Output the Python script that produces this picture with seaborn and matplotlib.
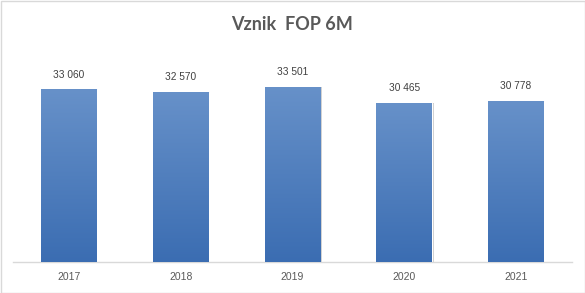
import numpy as np
import pandas as pd
import matplotlib
matplotlib.use("Agg")
import matplotlib.pyplot as plt
import seaborn as sns
from matplotlib.colors import LinearSegmentedColormap
from matplotlib.patches import Rectangle

years = ["2017", "2018", "2019", "2020", "2021"]
values = [33060, 32570, 33501, 30465, 30778]
labels = ["33 060", "32 570", "33 501", "30 465", "30 778"]
title = "Vznik  FOP 6M"

sns.set_theme(style="white")
plt.rcParams["font.family"] = ["Liberation Sans", "DejaVu Sans"]

df = pd.DataFrame({"year": years, "value": values})

fig = plt.figure(figsize=(5.85, 2.93), dpi=100)
ax = fig.add_axes([13/585, 1-262/293, 559/585, 209/293])
sns.barplot(data=df, x="year", y="value", color="#4a7bbf", width=0.5, ax=ax, saturation=1)
ax.set_ylim(0, 40000)
ax.set_xlim(-0.5, 4.5)

cmap = LinearSegmentedColormap.from_list("g", ["#3b6db2", "#6791c9"])
grad = np.linspace(0, 1, 256).reshape(-1, 1)
for p, lab in zip(ax.patches, labels):
    x0, y0 = p.get_x(), p.get_y()
    w, h = p.get_width(), p.get_height()
    sh = Rectangle((x0 + 0.012, y0), w, h, color="#c8c8c8", zorder=1, lw=0)
    ax.add_patch(sh)
    p.set_zorder(2)
    im = ax.imshow(grad, extent=[x0, x0 + w, y0, y0 + h], origin="lower",
                   cmap=cmap, aspect="auto", zorder=3)
    im.set_clip_path(p)
    ax.annotate(lab, (x0 + w / 2, y0 + h), xytext=(0, 7), textcoords="offset points",
                ha="center", va="bottom", fontsize=7.3, color="#404040")
ax.set_xlim(-0.5, 4.5)
ax.set_ylim(0, 40000)

for s in ["top", "right", "left"]:
    ax.spines[s].set_visible(False)
ax.spines["bottom"].set_color("#d9d9d9")
ax.spines["bottom"].set_linewidth(1)
ax.set_yticks([])
ax.set_xlabel("")
ax.set_ylabel("")
ax.tick_params(axis="x", length=0, pad=7, labelsize=7.5, labelcolor="#595959")

fig.text(0.5, 1 - 25/293, title, ha="center", va="center", fontsize=13,
         fontweight="bold", color="#595959", family=["Lato", "DejaVu Sans"])

border = Rectangle((0.5/585, 0.5/293), 1 - 1/585, 1 - 1/293, transform=fig.transFigure,
                   fill=False, edgecolor="#d9d9d9", lw=1)
fig.patches.append(border)

fig.savefig("out.png", dpi=100)
